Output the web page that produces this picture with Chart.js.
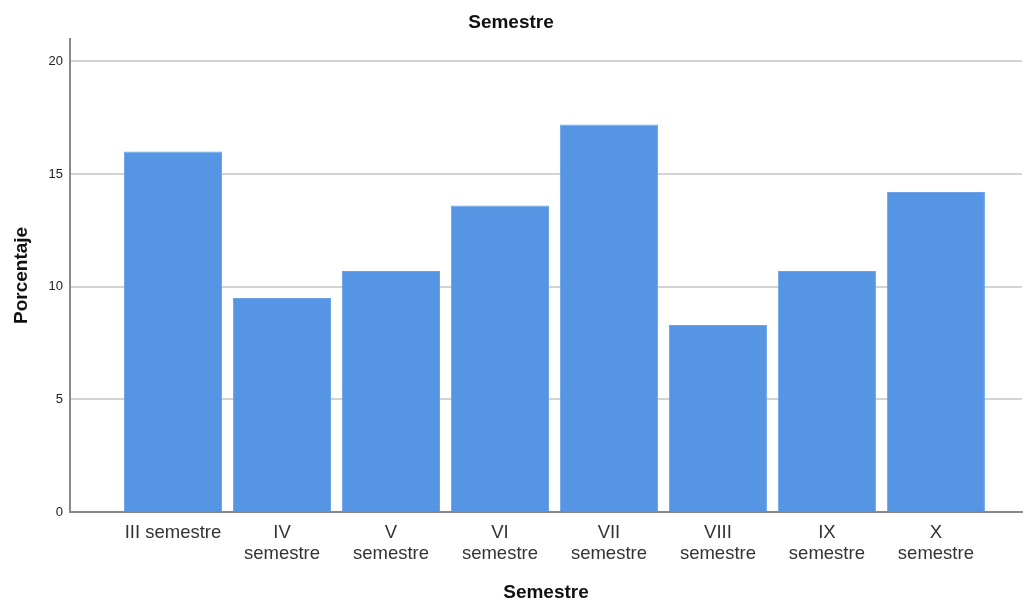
<html>
  <head>
    <style>
      body { margin: 0; background: #fff; }
      #wrap { width: 1025px; height: 602px; }
    </style>
  </head>
  <body>
    <div id="wrap"><canvas id="myChart"></canvas></div>

    <script src="https://cdn.jsdelivr.net/npm/chart.js@4/dist/chart.umd.min.js"></script>
    <script>
      // categories and values (percent)
      const semestres = [
        ['III semestre'],
        ['IV', 'semestre'],
        ['V', 'semestre'],
        ['VI', 'semestre'],
        ['VII', 'semestre'],
        ['VIII', 'semestre'],
        ['IX', 'semestre'],
        ['X', 'semestre'],
      ]
      const porcentaje = [16.0, 9.5, 10.7, 13.6, 17.2, 8.3, 10.7, 14.2]
      const yTicks = [0, 5, 10, 15, 20]

      const font = 'Liberation Sans, Arial, sans-serif'

      let chart = new Chart(document.getElementById('myChart'), {
        type: 'bar',
        data: {
          datasets: [
            {
              label: 'Porcentaje',
              data: porcentaje.map((v, i) => ({ x: i, y: v })),
              backgroundColor: '#5595e3',
              borderColor: '#6aa3e8',
              borderWidth: 1,
              barPercentage: 0.9,
              categoryPercentage: 1.0,
            },
          ],
        },
        options: {
          responsive: true,
          maintainAspectRatio: false,
          animation: false,
          layout: { padding: { left: 0, right: 3, top: 0, bottom: 0 } },
          plugins: {
            legend: { display: false },
            tooltip: { enabled: false },
            title: {
              display: true,
              text: 'Semestre',
              color: '#111',
              font: { family: font, size: 19, weight: 'bold' },
              padding: { top: 11, bottom: 5 },
            },
          },
          scales: {
            x: {
              type: 'linear',
              offset: false,
              min: -0.945,
              max: 7.79,
              grid: { display: false, offset: false },
              border: { display: true, color: '#888', width: 2 },
              afterBuildTicks: (scale) => {
                scale.ticks = semestres.map((c, i) => ({ value: i }))
              },
              afterFit: (scale) => { scale.height = 90 },
              ticks: {
                autoSkip: false,
                maxRotation: 0,
                padding: 3,
                color: '#333',
                font: { family: font, size: 18.5, lineHeight: 1.1 },
                callback: (v) => semestres[v] || '',
              },
              title: {
                display: true,
                text: 'Semestre',
                color: '#111',
                font: { family: font, size: 19, weight: 'bold', lineHeight: 1.0 },
                padding: { top: 0, bottom: 0 },
              },
            },
            y: {
              min: 0,
              max: 21,
              afterBuildTicks: (scale) => {
                scale.ticks = yTicks.map((v) => ({ value: v }))
              },
              afterFit: (scale) => { scale.width = 70 },
              grid: {
                drawTicks: false,
                color: (ctx) => (ctx.tick && ctx.tick.value === 0 ? 'rgba(0,0,0,0)' : '#d3d3d3'),
                lineWidth: 2,
              },
              border: { display: true, color: '#888', width: 2 },
              ticks: {
                padding: 7,
                color: '#222',
                font: { family: font, size: 13 },
              },
              title: {
                display: true,
                text: 'Porcentaje',
                color: '#111',
                font: { family: font, size: 19, weight: 'bold' },
                padding: { top: 10, bottom: 0 },
              },
            },
          },
        },
      })
    </script>
  </body>
</html>
